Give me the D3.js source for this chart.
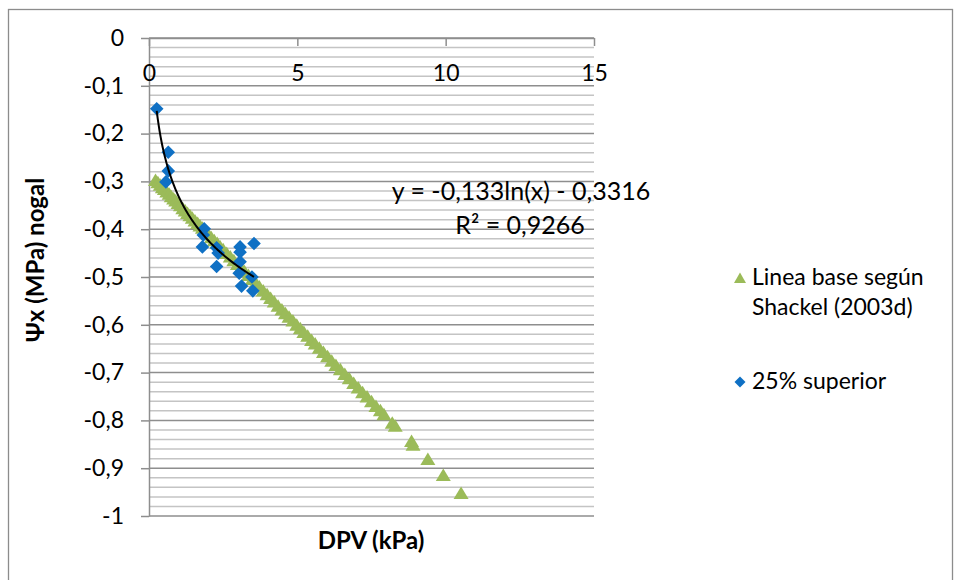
<!DOCTYPE html>
<html>
<head>
<meta charset="utf-8">
<script src="https://cdn.jsdelivr.net/npm/d3@7"></script>
<style>
  html, body { margin: 0; padding: 0; background: #fff; }
  svg { display: block; font-family: Lato, "Liberation Sans", sans-serif; }
</style>
</head>
<body>
<svg id="chart" width="961" height="580"></svg>
<script>
// ---- data ----
const baseX = [0.22,0.30,0.38,0.45,0.52,0.60,0.68,0.75,0.83,0.90,0.98,1.06,1.14,1.22,1.30,1.38,1.46,1.55,1.64,1.72,1.80,1.90,2.00,2.10,2.20,2.30,2.40,2.50,2.62,2.74,2.86,2.98,3.10,3.22,3.35,3.48,3.60,3.72,3.85,3.98,4.10,4.22,4.35,4.48,4.60,4.72,4.85,4.98,5.10,5.22,5.35,5.48,5.60,5.74,5.88,6.02,6.16,6.30,6.45,6.60,6.75,6.90,7.05,7.20,7.35,7.50,7.65,7.80,7.92,8.20,8.30,8.85,8.90,9.40,9.92,10.52];
const baseY = [-0.297,-0.302,-0.307,-0.312,-0.316,-0.321,-0.326,-0.331,-0.336,-0.340,-0.345,-0.350,-0.356,-0.361,-0.366,-0.371,-0.376,-0.382,-0.387,-0.392,-0.397,-0.404,-0.410,-0.417,-0.423,-0.429,-0.436,-0.442,-0.450,-0.457,-0.465,-0.473,-0.480,-0.488,-0.496,-0.504,-0.512,-0.520,-0.528,-0.536,-0.544,-0.551,-0.560,-0.568,-0.576,-0.583,-0.591,-0.600,-0.607,-0.615,-0.623,-0.632,-0.639,-0.648,-0.657,-0.666,-0.675,-0.684,-0.693,-0.703,-0.712,-0.722,-0.731,-0.741,-0.750,-0.760,-0.770,-0.779,-0.787,-0.805,-0.811,-0.843,-0.851,-0.881,-0.914,-0.952];
const topX = [0.26,0.65,0.65,0.57,1.86,1.83,1.80,2.28,2.33,2.28,3.07,3.07,3.54,3.07,3.04,3.47,3.12,3.50];
const topY = [-0.148,-0.239,-0.278,-0.301,-0.399,-0.412,-0.437,-0.439,-0.450,-0.478,-0.437,-0.448,-0.430,-0.468,-0.492,-0.500,-0.519,-0.529];
const seriesNames = ["Linea base según Shackel (2003d)", "25% superior"];
const xTicks = [0, 5, 10, 15];
const yTicks = [0, -0.1, -0.2, -0.3, -0.4, -0.5, -0.6, -0.7, -0.8, -0.9, -1];
const yTickLabels = ["0", "-0,1", "-0,2", "-0,3", "-0,4", "-0,5", "-0,6", "-0,7", "-0,8", "-0,9", "-1"];
const trendA = -0.133, trendB = -0.3316; // y = a ln(x) + b
const eqLabel = "y = -0,133ln(x) - 0,3316";
const r2Label = "R² = 0,9266";
const xTitle = "DPV (kPa)";
const yTitle = "Ψx (MPa) nogal";

// ---- layout ----
const svg = d3.select("#chart");
const L = 149, R = 594, T = 38, B = 516;
const x = d3.scaleLinear().domain([0, 15]).range([L, R]);
const y = d3.scaleLinear().domain([-1, 0]).range([B, T]);
const fs = 23;

// outer border
svg.append("rect").attr("x", 8.5).attr("y", 9.5).attr("width", 944).attr("height", 600)
  .attr("fill", "none").attr("stroke", "#8c8c8c").attr("stroke-width", 1.3);

// minor gridlines
const minor = d3.range(0, 51).map(i => -i * 0.02).filter((v, i) => i % 5 !== 0);
svg.append("g").selectAll("line").data(minor).join("line")
  .attr("x1", L).attr("x2", R).attr("y1", d => y(d)).attr("y2", d => y(d))
  .attr("stroke", "#c4c4c4").attr("stroke-width", 1.5);

// major gridlines
svg.append("g").selectAll("line").data(yTicks).join("line")
  .attr("x1", L).attr("x2", R).attr("y1", d => y(d)).attr("y2", d => y(d))
  .attr("stroke", "#8e8e8e").attr("stroke-width", 1.5);

// y axis
const yAxis = svg.append("g").attr("transform", `translate(${L},0)`)
  .call(d3.axisLeft(y).tickValues(yTicks).tickSize(8).tickSizeOuter(0).tickPadding(17)
    .tickFormat((d, i) => yTickLabels[i]));
yAxis.select(".domain").attr("stroke", "#8e8e8e").attr("stroke-width", 1.5);
yAxis.selectAll(".tick line").attr("stroke", "#8e8e8e").attr("stroke-width", 1.5);
yAxis.selectAll("text").attr("font-size", fs).attr("font-family", "Lato").attr("fill", "#000");

// x axis at top (y = 0), ticks downward, labels below
const xAxis = svg.append("g").attr("transform", `translate(0,${T})`)
  .call(d3.axisBottom(x).tickValues(xTicks).tickSize(8).tickSizeOuter(0).tickPadding(19).tickFormat(d3.format("d")));
xAxis.select(".domain").attr("stroke", "#8e8e8e").attr("stroke-width", 1.5);
xAxis.selectAll(".tick line").attr("stroke", "#8e8e8e").attr("stroke-width", 1.5);
xAxis.selectAll("text").attr("font-size", fs).attr("font-family", "Lato").attr("fill", "#000");

// markers
const triPath = "M0,-6.5L7.5,6L-7.5,6Z";
const diaPath = "M0,-6.8L6.8,0L0,6.8L-6.8,0Z";
const green = "#9BBB59", blue = "#0F70C4";

svg.append("g").selectAll("path").data(baseX.map((v, i) => [v, baseY[i]])).join("path")
  .attr("d", triPath).attr("fill", green)
  .attr("transform", d => `translate(${x(d[0])},${y(d[1])})`);

svg.append("g").selectAll("path").data(topX.map((v, i) => [v, topY[i]])).join("path")
  .attr("d", diaPath).attr("fill", blue)
  .attr("transform", d => `translate(${x(d[0])},${y(d[1])})`);

// trendline
const [tx0, tx1] = d3.extent(topX);
const trendPts = d3.range(0, 101).map(i => tx0 + (tx1 - tx0) * i / 100).map(v => [v, trendA * Math.log(v) + trendB]);
svg.append("path").datum(trendPts)
  .attr("d", d3.line().x(d => x(d[0])).y(d => y(d[1])))
  .attr("fill", "none").attr("stroke", "#000").attr("stroke-width", 2);

// equation
svg.append("text").attr("x", 521).attr("y", 200).attr("text-anchor", "middle")
  .attr("font-size", 25).text(eqLabel);
svg.append("text").attr("x", 520).attr("y", 234).attr("text-anchor", "middle")
  .attr("font-size", 25).text(r2Label);

// axis titles
svg.append("text").attr("x", 371).attr("y", 549).attr("text-anchor", "middle")
  .attr("font-size", 24).attr("font-weight", "bold").text(xTitle);
svg.append("text").attr("transform", "translate(44,260) rotate(-90)").attr("text-anchor", "middle")
  .attr("font-size", 24).attr("font-weight", "bold").text(yTitle);

// legend
const lg = svg.append("g");
lg.append("path").attr("d", "M0,-5.5L6,5L-6,5Z").attr("fill", green).attr("transform", "translate(740,278)");
lg.append("text").attr("x", 752).attr("y", 285).attr("font-size", fs).text("Linea base según");
lg.append("text").attr("x", 752).attr("y", 315).attr("font-size", fs).text("Shackel (2003d)");
lg.append("path").attr("d", "M0,-5.5L5.5,0L0,5.5L-5.5,0Z").attr("fill", blue).attr("transform", "translate(740,382)");
lg.append("text").attr("x", 752).attr("y", 389).attr("font-size", fs).text(seriesNames[1]);
</script>
</body>
</html>
